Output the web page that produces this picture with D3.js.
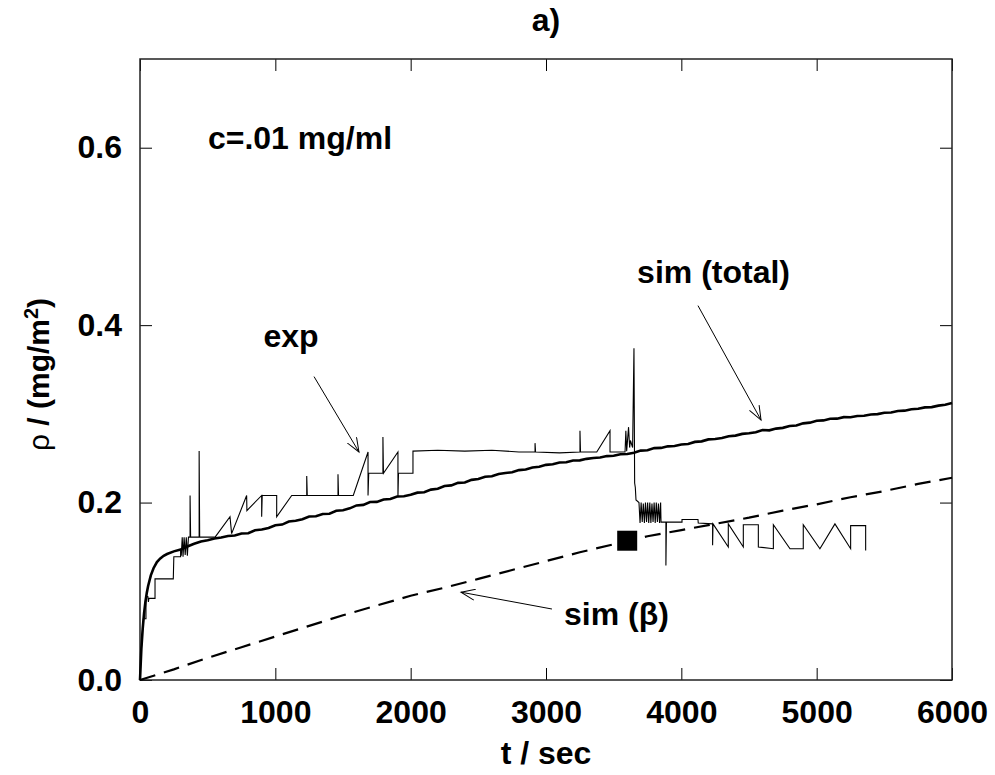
<!DOCTYPE html>
<html>
<head>
<meta charset="utf-8">
<script src="https://cdn.jsdelivr.net/npm/d3@7"></script>
<style>
  body { margin: 0; background: #fff; }
  svg text { font-family: "Liberation Sans", Arial, Helvetica, sans-serif; font-weight: bold; fill: #000; }
</style>
</head>
<body>
<div id="chart"></div>
<script>
// t / sec, rho / (mg/m^2)
var simTotal = [
  [0,0],[10,0.035],[20,0.058],[30,0.075],[40,0.088],[50,0.098],[60,0.106],[80,0.118],
  [100,0.126],[125,0.133],[150,0.137],[175,0.140],[200,0.142],[250,0.145],[300,0.147],
  [350,0.1505],[400,0.1535],[450,0.1562],[500,0.1575],[550,0.1594],[600,0.1607],
  [650,0.1623],[700,0.1628],[750,0.1652],[800,0.1655],[850,0.1688],[900,0.1697],
  [950,0.1714],[1000,0.1745],[1050,0.1752],[1100,0.1786],[1150,0.1795],[1200,0.1812],
  [1250,0.1843],[1300,0.1846],[1350,0.1872],[1400,0.1874],[1450,0.1908],[1500,0.1914],
  [1550,0.1935],[1600,0.1968],[1650,0.1974],[1700,0.2006],[1750,0.2008],[1800,0.2034],
  [1850,0.2041],[1900,0.2068],[1950,0.2072],[2000,0.2088],[2050,0.2112],[2100,0.2116],
  [2150,0.2146],[2200,0.2155],[2250,0.2186],[2300,0.2194],[2350,0.2222],[2400,0.2226],
  [2450,0.2256],[2500,0.2265],[2550,0.2291],[2600,0.2296],[2650,0.2322],[2700,0.2334],
  [2750,0.2341],[2800,0.2366],[2850,0.2372],[2900,0.2396],[2950,0.2404],[3000,0.2425],
  [3050,0.2431],[3100,0.2452],[3150,0.2455],[3200,0.2474],[3250,0.2476],[3300,0.2493],
  [3350,0.2502],[3400,0.2508],[3450,0.2524],[3500,0.2527],[3550,0.2545],[3600,0.2548],
  [3650,0.2561],[3700,0.2586],[3750,0.2590],[3800,0.2614],[3850,0.2616],[3900,0.2634],
  [3950,0.2637],[4000,0.2654],[4050,0.2661],[4100,0.2684],[4150,0.2690],[4200,0.2712],
  [4250,0.2716],[4300,0.2728],[4350,0.2748],[4400,0.2755],[4450,0.2774],[4500,0.2782],
  [4550,0.2793],[4600,0.2818],[4650,0.2814],[4700,0.2834],[4750,0.2842],[4800,0.2864],
  [4850,0.2868],[4900,0.2893],[4950,0.2901],[5000,0.2922],[5050,0.2926],[5100,0.2944],
  [5150,0.2946],[5200,0.2963],[5250,0.2961],[5300,0.2975],[5350,0.2978],[5400,0.2993],
  [5450,0.2997],[5500,0.3013],[5550,0.3016],[5600,0.3032],[5650,0.3036],[5700,0.3052],
  [5750,0.3057],[5800,0.3073],[5850,0.3076],[5900,0.3093],[5950,0.3102],[6000,0.3122]
];

var simBeta = [
  [0,0],[250,0.012],[500,0.025],[750,0.037],[1000,0.049],[1250,0.061],[1500,0.073],
  [1750,0.084],[2000,0.095],[2250,0.104],[2500,0.114],[2750,0.124],[3000,0.134],
  [3250,0.144],[3500,0.153],[3750,0.162],[4000,0.169],[4250,0.176],[4500,0.183],
  [4750,0.191],[5000,0.198],[5250,0.206],[5500,0.213],[5750,0.221],[6000,0.228]
];

var expData = [
  [0,0],[8,0.03],[18,0.055],[25,0.069],[44,0.069],[44,0.094],[58,0.094],[62,0.088],
  [66,0.092],[111,0.092],[111,0.114],[246,0.114],[250,0.139],[300,0.139],[300,0.148],
  [305,0.14],[312,0.161],[318,0.139],[326,0.161],[334,0.141],[342,0.161],[350,0.14],
  [358,0.161],[370,0.161],[370,0.208],[374,0.161],[437,0.161],[437,0.258],[441,0.161],
  [555,0.161],[665,0.184],[677,0.165],[788,0.208],[790,0.191],[899,0.208],[899,0.184],
  [903,0.208],[1010,0.208],[1010,0.184],[1121,0.208],[1232,0.208],[1232,0.23],
  [1236,0.208],[1463,0.208],[1463,0.232],[1467,0.208],[1576,0.208],[1685,0.257],
  [1685,0.208],[1690,0.233],[1795,0.233],[1795,0.274],[1799,0.233],[1906,0.257],
  [1906,0.206],[1910,0.233],[2017,0.233],[2017,0.258],[2200,0.259],[2400,0.258],
  [2600,0.259],[2800,0.257],[2919,0.257],[2919,0.267],[2923,0.257],[3100,0.256],
  [3251,0.257],[3251,0.281],[3255,0.257],[3375,0.257],[3473,0.281],[3473,0.257],
  [3584,0.257],[3590,0.281],[3596,0.258],[3610,0.285],[3618,0.262],[3624,0.27],
  [3640,0.262],[3650,0.374],[3655,0.222],[3660,0.217],[3665,0.203],
  [3687,0.200],[3695,0.177],[3703,0.200],[3711,0.178],[3719,0.199],[3727,0.177],
  [3735,0.200],[3743,0.178],[3751,0.200],[3759,0.177],[3767,0.200],[3775,0.177],
  [3783,0.199],[3791,0.178],[3799,0.200],[3807,0.177],[3815,0.200],[3823,0.178],
  [3831,0.199],[3839,0.177],[3847,0.200],[3850,0.178],[3886,0.178],[3886,0.129],
  [3890,0.178],[4005,0.178],[4005,0.181],[4123,0.181],[4125,0.177],[4231,0.176],
  [4231,0.152],[4234,0.176],[4347,0.150],[4347,0.176],[4458,0.150],[4458,0.175],
  [4569,0.175],[4569,0.150],[4680,0.148],[4680,0.175],[4803,0.148],[4901,0.148],
  [4901,0.175],[5024,0.148],[5135,0.176],[5251,0.148],[5251,0.174],[5362,0.174],
  [5362,0.146]
];

var marker = [[3600, 0.157]];

var xTicks = [0, 1000, 2000, 3000, 4000, 5000, 6000];
var yTicks = [0.0, 0.2, 0.4, 0.6];

// annotations: label position and arrow from/to, in data units
var labels = [
  {text: "c=.01 mg/ml", t: 502, r: 0.598, anchor: "start"},
  {text: "exp", t: 1116, r: 0.375, anchor: "middle"},
  {text: "sim (total)", t: 4803, r: 0.447, anchor: "end"},
  {text: "sim (\u03b2)", t: 3133, r: 0.062, anchor: "start"}
];
var arrows = [
  {from: [1286, 0.342], to: [1618, 0.257]},
  {from: [4123, 0.422], to: [4589, 0.293]},
  {from: [3044, 0.080], to: [2372, 0.099]}
];

var W = 995, H = 775;
var margin = {top: 59, right: 43, bottom: 95, left: 140};

var svg = d3.select("#chart").append("svg")
  .attr("width", W)
  .attr("height", H);

var x = d3.scaleLinear().domain([0, 6000]).range([margin.left, W - margin.right]);
var y = d3.scaleLinear().domain([0, 0.7]).range([H - margin.bottom, margin.top]);

svg.append("defs").append("marker")
  .attr("id", "arrow")
  .attr("viewBox", "-14 -6 16 12")
  .attr("refX", 0).attr("refY", 0)
  .attr("markerWidth", 16).attr("markerHeight", 12)
  .attr("markerUnits", "userSpaceOnUse")
  .attr("orient", "auto")
  .append("path")
  .attr("d", "M-14,-5.5L0,0L-14,5.5")
  .attr("fill", "none")
  .attr("stroke", "#000")
  .attr("stroke-width", 1);

// axes with inward ticks on all four sides
var fmtY = d3.format(".1f");
var xAxis = d3.axisBottom(x).tickValues(xTicks).tickSizeInner(-12).tickSizeOuter(0).tickPadding(20).tickFormat(d3.format("d"));
var xAxisTop = d3.axisTop(x).tickValues(xTicks).tickSizeInner(-12).tickSizeOuter(0).tickFormat("");
var yAxis = d3.axisLeft(y).tickValues(yTicks).tickSizeInner(-12).tickSizeOuter(0).tickPadding(18).tickFormat(fmtY);
var yAxisRight = d3.axisRight(y).tickValues(yTicks).tickSizeInner(-12).tickSizeOuter(0).tickFormat("");

function styleAxis(g) {
  g.select(".domain").remove();
  g.selectAll(".tick line").attr("stroke", "#000").attr("stroke-width", 1);
  g.selectAll(".tick text")
    .style("font-family", '"Liberation Sans", Arial, sans-serif')
    .style("font-weight", "bold")
    .style("font-size", "32px")
    .attr("fill", "#000");
}

svg.append("g").attr("transform", "translate(0," + y(0) + ")").call(xAxis).call(styleAxis);
svg.append("g").attr("transform", "translate(0," + y(0.7) + ")").call(xAxisTop).call(styleAxis);
svg.append("g").attr("transform", "translate(" + x(0) + ",0)").call(yAxis).call(styleAxis);
svg.append("g").attr("transform", "translate(" + x(6000) + ",0)").call(yAxisRight).call(styleAxis);

svg.append("rect")
  .attr("x", x(0)).attr("y", y(0.7))
  .attr("width", x(6000) - x(0)).attr("height", y(0) - y(0.7))
  .attr("fill", "none")
  .attr("stroke", "#222")
  .attr("stroke-width", 1.5);

var line = d3.line()
  .x(function(d) { return x(d[0]); })
  .y(function(d) { return y(d[1]); });

svg.append("path")
  .datum(simBeta)
  .attr("d", line)
  .attr("fill", "none")
  .attr("stroke", "#000")
  .attr("stroke-width", 2.2)
  .attr("stroke-dasharray", "16,9");

svg.append("path")
  .datum(expData)
  .attr("d", line)
  .attr("fill", "none")
  .attr("stroke", "#000")
  .attr("stroke-width", 1.1)
  .attr("stroke-linejoin", "miter");

svg.append("path")
  .datum(simTotal)
  .attr("d", line)
  .attr("fill", "none")
  .attr("stroke", "#000")
  .attr("stroke-width", 2.6);

svg.selectAll(".marker").data(marker)
  .enter().append("rect")
  .attr("class", "marker")
  .attr("x", function(d) { return x(d[0]) - 10; })
  .attr("y", function(d) { return y(d[1]) - 10; })
  .attr("width", 20).attr("height", 20)
  .attr("fill", "#000");

svg.selectAll(".arrow").data(arrows)
  .enter().append("line")
  .attr("class", "arrow")
  .attr("x1", function(d) { return x(d.from[0]); })
  .attr("y1", function(d) { return y(d.from[1]); })
  .attr("x2", function(d) { return x(d.to[0]); })
  .attr("y2", function(d) { return y(d.to[1]); })
  .attr("stroke", "#000")
  .attr("stroke-width", 1)
  .attr("marker-end", "url(#arrow)");

svg.selectAll(".label").data(labels)
  .enter().append("text")
  .attr("class", "label")
  .attr("x", function(d) { return x(d.t); })
  .attr("y", function(d) { return y(d.r); })
  .attr("text-anchor", function(d) { return d.anchor; })
  .style("font-size", "32px")
  .text(function(d) { return d.text; });

// titles
svg.append("text")
  .attr("x", (x(0) + x(6000)) / 2).attr("y", 31)
  .attr("text-anchor", "middle")
  .style("font-size", "32px")
  .text("a)");

svg.append("text")
  .attr("x", (x(0) + x(6000)) / 2).attr("y", 764)
  .attr("text-anchor", "middle")
  .style("font-size", "32px")
  .text("t / sec");

var yl = svg.append("text")
  .attr("transform", "translate(49," + ((y(0) + y(0.7)) / 2 + 5) + ") rotate(-90)")
  .attr("text-anchor", "middle")
  .style("font-size", "30px");
yl.append("tspan").style("font-weight", "normal").text("\u03c1");
yl.append("tspan").text(" / (mg/m");
yl.append("tspan").attr("dy", "-0.55em").style("font-size", "20px").text("2");
yl.append("tspan").attr("dy", "0.37em").text(")");
</script>
</body>
</html>
